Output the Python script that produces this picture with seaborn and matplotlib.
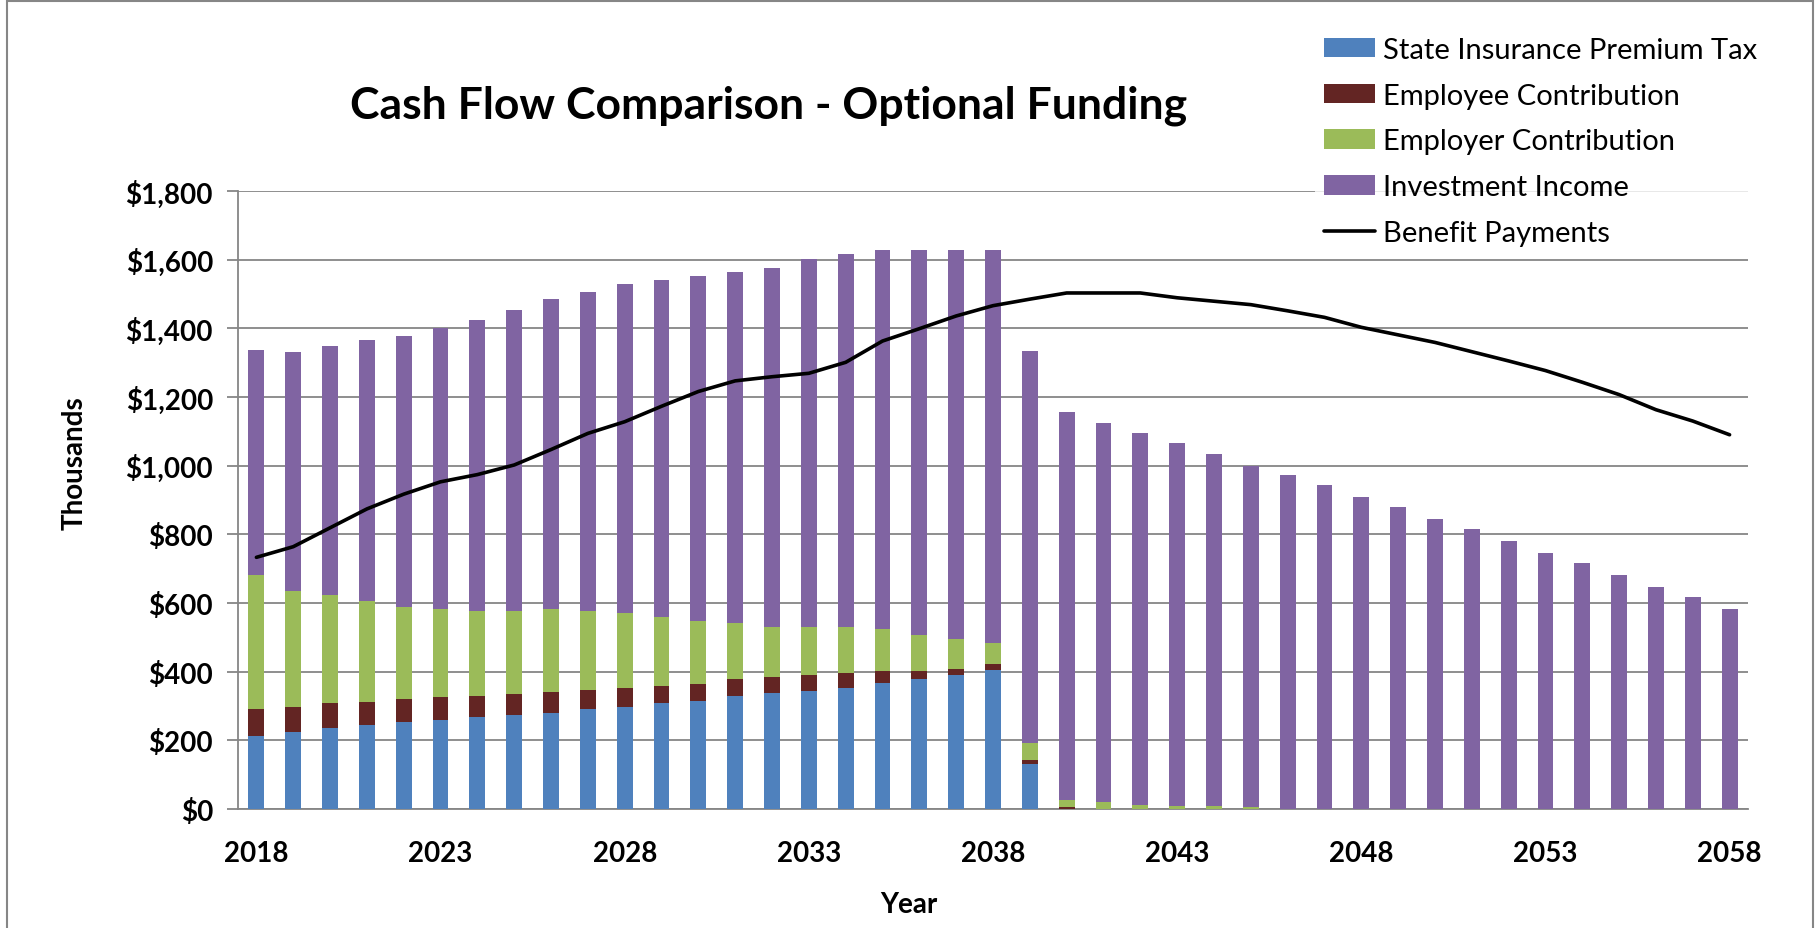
import numpy as np
import pandas as pd
import matplotlib
matplotlib.use("Agg")
import matplotlib.pyplot as plt
import seaborn as sns
from matplotlib.patches import Patch, Rectangle
from matplotlib.lines import Line2D
from matplotlib.ticker import FuncFormatter, FixedLocator

sns.set_style("white")
plt.rcParams['font.family'] = ['Lato', 'DejaVu Sans']
plt.rcParams['text.color'] = 'black'
plt.rcParams['xtick.labelcolor'] = 'black'
plt.rcParams['ytick.labelcolor'] = 'black'

# data (thousands of dollars)
years = list(range(2018, 2059))
state_tax = [212, 224, 235, 246, 252, 258, 269, 275, 280, 292, 297, 308, 314, 328, 339, 345,
             352, 368, 380, 391, 405, 132] + [0] * 19
employee = [79, 72, 73, 67, 67, 67, 61, 61, 62, 55, 56, 50, 50, 51, 46, 46, 45, 35, 23, 17,
            16, 12, 5] + [0] * 18
employer = [391, 340, 315, 293, 270, 258, 247, 241, 241, 230, 218, 200, 183, 164, 145, 139,
            133, 121, 105, 88, 63, 49, 21, 20, 13, 9, 8, 7] + [0] * 13
investment = [656, 696, 727, 761, 789, 819, 848, 877, 901, 930, 959, 983, 1006, 1021, 1046,
              1071, 1087, 1104, 1120, 1132, 1144, 1142, 1131, 1104, 1082, 1057, 1027, 993,
              973, 943, 908, 880, 845, 815, 781, 746, 716, 682, 648, 617, 583]
benefits = [733, 764, 819, 874, 917, 953, 974, 1002, 1047, 1094, 1128, 1173, 1216, 1247,
            1259, 1269, 1301, 1363, 1399, 1436, 1466, 1485, 1503, 1503, 1503, 1489, 1479,
            1469, 1451, 1432, 1403, 1381, 1359, 1332, 1305, 1277, 1243, 1207, 1163, 1130,
            1090]

labels = ["State Insurance Premium Tax", "Employee Contribution",
          "Employer Contribution", "Investment Income"]
colors = ["#4F81BD", "#632523", "#9BBB59", "#8064A2"]

df = pd.DataFrame({"year": [str(y) for y in years],
                   labels[0]: state_tax, labels[1]: employee,
                   labels[2]: employer, labels[3]: investment})
cum = df[labels].cumsum(axis=1)

fig = plt.figure(figsize=(18.16, 9.29), dpi=100)
ax = fig.add_axes([238 / 1816, 1 - 810 / 929, 1510 / 1816, 618 / 929])

# stacked bars: draw cumulative totals from the top down
for lab, col in reversed(list(zip(labels, colors))):
    sns.barplot(x=df["year"], y=cum[lab], color=col, saturation=1, width=0.43,
                ax=ax, zorder=3, linewidth=0)

sns.lineplot(x=np.arange(len(years)), y=benefits, color="black", linewidth=2.6,
             ax=ax, zorder=4)

grid_c = "#868686"
ax.set_ylim(0, 1800)
ax.set_xlim(-0.5, len(years) - 0.5)
ax.set_yticks(np.arange(0, 1801, 200))
ax.yaxis.set_major_formatter(FuncFormatter(lambda v, p: f"${v:,.0f}"))
ax.grid(axis="y", color=grid_c, linewidth=1.3, zorder=0)
ax.set_axisbelow(True)

major = list(range(0, len(years), 5))
ax.xaxis.set_major_locator(FixedLocator(major))
ax.set_xticklabels([str(years[i]) for i in major])
ax.xaxis.set_minor_locator(FixedLocator(np.arange(-0.5, len(years), 1)))
ax.tick_params(axis="x", which="major", length=0, pad=22, labelsize=20)
ax.tick_params(axis="x", which="minor", length=8, width=1.3, color=grid_c, direction="out")
ax.tick_params(axis="y", length=8, width=1.3, color=grid_c, direction="out", pad=10,
               labelsize=20, left=True)
for t in ax.get_xticklabels() + ax.get_yticklabels():
    t.set_fontweight("bold")

sns.despine(ax=ax)
for s in ["left", "bottom"]:
    ax.spines[s].set_color(grid_c)
    ax.spines[s].set_linewidth(1.3)
ax.set_xlabel("")
ax.set_ylabel("")

fig.text(769 / 1816, 1 - 119 / 929, "Cash Flow Comparison - Optional Funding",
         fontsize=32, fontweight="bold", ha="center", va="baseline")
fig.text(909 / 1816, 1 - 913 / 929, "Year", fontsize=20, fontweight="bold",
         ha="center", va="baseline")
fig.text(75 / 1816, 1 - 463 / 929, "Thousands", fontsize=20, fontweight="bold",
         ha="center", va="center", rotation=90)

handles = [Patch(facecolor=c, edgecolor="none") for c in colors]
handles.append(Line2D([0], [0], color="black", linewidth=2.6))
leg = fig.legend(handles, labels + ["Benefit Payments"], loc="upper left",
                 bbox_to_anchor=(1315 / 1816, 1 - 29 / 929), fontsize=21,
                 frameon=True, fancybox=False, borderpad=0.3, borderaxespad=0,
                 handlelength=1.75, handleheight=0.65, handletextpad=0.28,
                 labelspacing=0.68)
leg.get_frame().set_facecolor("white")
leg.get_frame().set_edgecolor("none")

# outer chart border
fig.patches.append(Rectangle((7 / 1816, -0.05), 1806 / 1816, 1.05 - 2 / 929,
                             transform=fig.transFigure, fill=False,
                             edgecolor=grid_c, linewidth=1.5))

fig.savefig("out.png", dpi=100)
